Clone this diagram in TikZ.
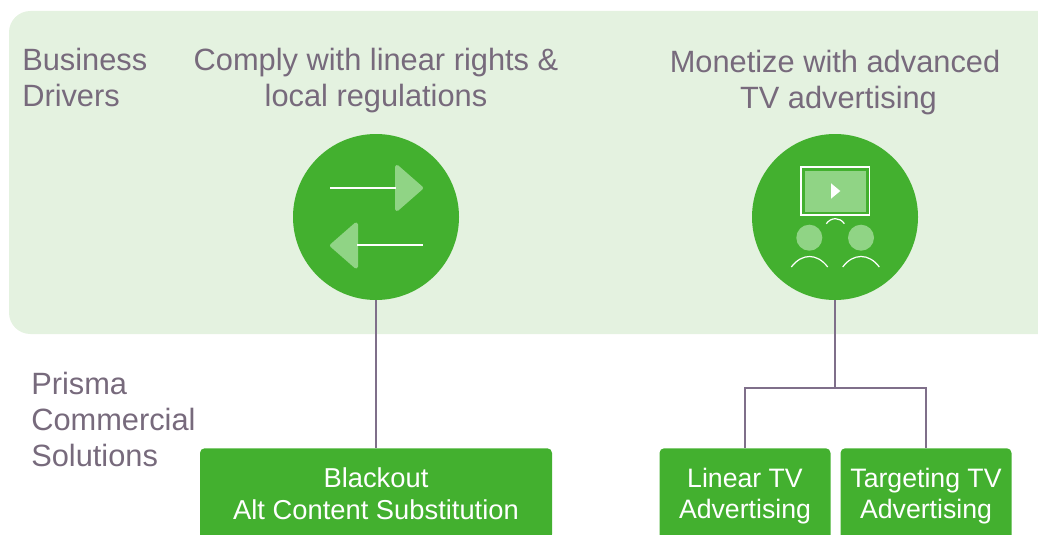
\documentclass[tikz,border=0pt]{standalone}
\usepackage{fontspec}
\setmainfont{Liberation Sans}
\definecolor{panelgreen}{HTML}{E4F2E0}
\definecolor{solidgreen}{HTML}{43B02F}
\definecolor{palegreen}{HTML}{90D485}
\definecolor{greytext}{HTML}{776A7C}
\definecolor{greyline}{HTML}{7F6F8A}
\tikzset{
  heading/.style={text=greytext, align=center, inner sep=0pt, font=\fontsize{23.1}{27}\selectfont},
  sidenote/.style={heading, align=left, anchor=west},
  badge/.style={circle, fill=solidgreen, minimum size=124.5pt, inner sep=0pt},
  solution/.style={fill=solidgreen, text=white, align=center, rounded corners=3.5pt, inner sep=0pt,
    minimum height=71.25pt, anchor=north, font=\fontsize{20}{23.5}\selectfont},
  link/.style={draw=greyline, line width=1.1pt},
  glyph/.style={draw=white, line width=0.9pt},
  tip/.style={fill=palegreen, draw=palegreen, line width=3pt, line join=round}
}
\begin{document}
\begin{tikzpicture}[x=0.75pt, y=-0.75pt]
\useasboundingbox (0, 0) rectangle (1038, 535);
\clip (0, 0) rectangle (1038, 535);

\fill[panelgreen, rounded corners=16pt] (9, 11) rectangle (1100, 334);

\draw (22, 77.5) node[sidenote] (drivers) {Business\\Drivers};
\draw (376, 81) node[heading] (comply) {Comply with linear rights \&\\local regulations};
\draw (835, 83) node[heading] (monetize) {Monetize with advanced\\\hspace*{5.2pt}TV advertising};
\draw (31, 419.5) node[sidenote] (prisma) {Prisma\\Commercial\\Solutions};

\draw (376, 217) node[badge] (rights) {};
\draw (835, 217) node[badge] (tv) {};

\draw (376, 448) node[solution, minimum width=264pt, minimum height=68pt, font=\fontsize{20.5}{23.5}\selectfont] (blackout) {Blackout\\Alt Content Substitution};
\draw (745, 448) node[solution, minimum width=128.25pt] (linear) {Linear TV\\Advertising};
\draw (926, 448) node[solution, minimum width=128.25pt] (targeting) {Targeting TV\\Advertising};

\coordinate (fork) at (835, 388);

\draw[link] (rights) -- (blackout);
\draw[link] (tv) -- (fork);
\draw[link] (linear.north) |- (fork) -| (targeting.north);

\draw[tip] (397, 167) -- (421, 188) -- (397, 209) -- cycle;
\draw[tip] (356, 224.5) -- (332, 245.5) -- (356, 266.5) -- cycle;
\draw[glyph] (330, 188) -- (396, 188);
\draw[glyph] (357, 245) -- (423, 245);

\draw[glyph] (801, 167) rectangle (869.5, 215);
\fill[palegreen] (805, 171) rectangle (866, 212.3);
\fill[white] (831, 183.3) -- (840.3, 191) -- (831, 198.7) -- cycle;
\draw[glyph] (826.3, 223.7) .. controls (831, 217) and (840, 217) .. (844.3, 223.7);

\fill[palegreen] (809.3, 237.7) circle (13);
\fill[palegreen] (861, 237.7) circle (13);
\draw[glyph] (791.3, 267) .. controls (802, 253) and (817, 253) .. (827.7, 267);
\draw[glyph] (842.7, 267) .. controls (853, 253) and (869, 253) .. (879.3, 267);
\end{tikzpicture}
\end{document}
